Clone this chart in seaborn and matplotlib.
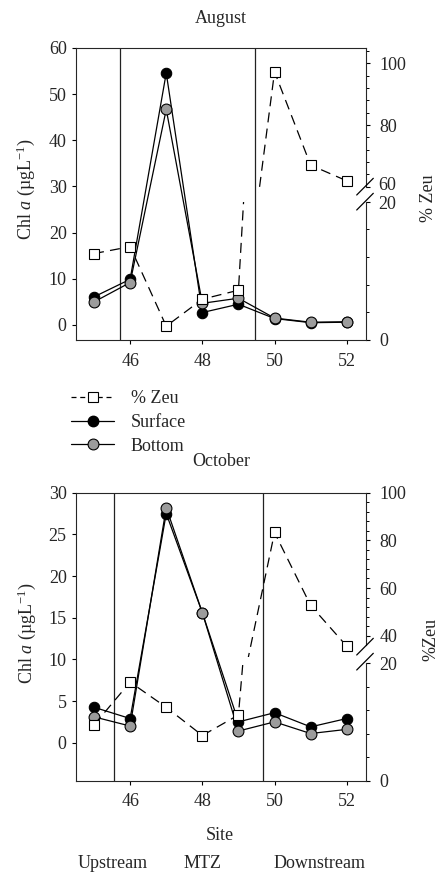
import numpy as np
import pandas as pd
import matplotlib
matplotlib.use("Agg")
import matplotlib.pyplot as plt
import seaborn as sns
from matplotlib.lines import Line2D
from matplotlib.ticker import FixedLocator, FixedFormatter

# ---------------- data ----------------
sites = [45, 46, 47, 48, 49, 50, 51, 52]
aug_surface = [6.1, 9.9, 54.6, 2.7, 4.5, 1.4, 0.5, 0.6]
aug_bottom = [5.0, 9.2, 46.7, 4.7, 5.8, 1.5, 0.6, 0.7]
aug_zeu = [12.5, 13.5, 2.0, 5.9, 7.2, 97.3, 67.0, 61.9]
oct_surface = [4.25, 2.9, 27.5, 15.6, 2.5, 3.6, 1.9, 2.9]
oct_bottom = [3.1, 2.0, 28.2, 15.6, 1.4, 2.5, 1.1, 1.6]
oct_zeu = [9.5, 16.8, 12.5, 7.7, 11.2, 83.3, 52.7, 35.6]
aug_zones = [45.72, 49.47]
oct_zones = [45.56, 49.68]
x_ticks = [46, 48, 50, 52]
aug_left_ticks = [0, 10, 20, 30, 40, 50, 60]
oct_left_ticks = [0, 5, 10, 15, 20, 25, 30]
right_low_ticks = [0, 20]
aug_right_up_ticks = [60, 80, 100]
oct_right_up_ticks = [40, 60, 80, 100]
zone_labels = ["Upstream", "MTZ", "Downstream"]
legend_labels = ["% Zeu", "Surface", "Bottom"]

# ---------------- style ----------------
sns.set_style("ticks")
plt.rcParams["font.family"] = ["Liberation Serif", "DejaVu Serif"]
plt.rcParams["mathtext.fontset"] = "custom"
plt.rcParams["mathtext.rm"] = "Liberation Serif"
plt.rcParams["mathtext.it"] = "Liberation Serif:italic"
plt.rcParams["axes.linewidth"] = 0.8
FS = 13

W, H = 440, 876
fig = plt.figure(figsize=(W / 100, H / 100), dpi=100)
fig.patch.set_facecolor("white")


def rect(x0, ytop, x1, ybot):
    return [x0 / W, 1 - ybot / H, (x1 - x0) / W, (ybot - ytop) / H]


def fx(x):
    return x / W


def fy(y):
    return 1 - y / H


XL, XR = 76, 365.5
XLIM = (44.50, 52.52)
GRAY = "#9c9c9c"
LW = 0.9


def style_ticks(ax):
    ax.tick_params(axis="both", which="major", direction="out", length=3.2,
                   width=0.8, labelsize=FS, color="black")
    ax.tick_params(axis="both", which="minor", direction="out", length=2.2,
                   width=0.7, color="black")


def panel(ytop, ybot, ylim, left_ticks, surface, bottom, zeu, zones,
          low_rect_top, up_rect_bot, up_ylim, up_bounds_low, up_ticks,
          low_labels, up_labels):
    ax = fig.add_axes(rect(XL, ytop, XR, ybot))
    ax.set_xlim(*XLIM)
    ax.set_ylim(*ylim)
    ax.spines["right"].set_visible(False)
    for s in ["left", "top", "bottom"]:
        ax.spines[s].set_linewidth(0.8)
    ax.set_xticks(x_ticks)
    ax.set_xticklabels([str(t) for t in x_ticks])
    ax.set_yticks(left_ticks)
    style_ticks(ax)
    ax.tick_params(axis="y", pad=3.5)
    ax.tick_params(axis="x", pad=6)
    for z in zones:
        ax.axvline(z, color="#222222", lw=0.9, zorder=1)

    df = pd.DataFrame({"site": sites, "surface": surface, "bottom": bottom,
                       "zeu": zeu})
    sns.lineplot(data=df, x="site", y="surface", ax=ax, color="black",
                 marker="o", markersize=7.5, markerfacecolor="black",
                 markeredgecolor="black", markeredgewidth=0.8, linewidth=LW,
                 errorbar=None, legend=False, zorder=3)
    sns.lineplot(data=df, x="site", y="bottom", ax=ax, color="black",
                 marker="o", markersize=7.8, markerfacecolor=GRAY,
                 markeredgecolor="black", markeredgewidth=0.8, linewidth=LW,
                 errorbar=None, legend=False, zorder=4)
    ax.set_xlabel("")
    ax.set_ylabel("")

    # lower segment of broken right axis
    axl = fig.add_axes(rect(XL, low_rect_top, XR, ybot))
    axl.sharex(ax)
    axl.set_ylim(0, 20)
    # upper segment
    axu = fig.add_axes(rect(XL, ytop, XR, up_rect_bot))
    axu.sharex(ax)
    axu.set_ylim(*up_ylim)
    for a in (axl, axu):
        a.patch.set_visible(False)
        for s in ["left", "top", "bottom"]:
            a.spines[s].set_visible(False)
        a.spines["right"].set_linewidth(0.8)
        a.xaxis.set_visible(False)
        a.yaxis.tick_right()
        style_ticks(a)
        a.tick_params(axis="y", pad=7)
        sns.lineplot(data=df, x="site", y="zeu", ax=a, color="black",
                     marker="s", markersize=7, markerfacecolor="white",
                     markeredgecolor="black", markeredgewidth=0.8,
                     linewidth=LW, linestyle="--", errorbar=None,
                     legend=False, zorder=5)
        a.lines[-1].set_dashes((8, 5))
        a.set_xlabel("")
        a.set_ylabel("")
    axl.yaxis.set_major_locator(FixedLocator(right_low_ticks))
    axl.yaxis.set_major_formatter(FixedFormatter(low_labels))
    axl.yaxis.set_minor_locator(FixedLocator([4, 8, 12, 16]))
    axl.spines["right"].set_bounds(0, 20)
    axu.yaxis.set_major_locator(FixedLocator(up_ticks))
    axu.yaxis.set_major_formatter(FixedFormatter(up_labels))
    mn = [v for v in np.arange(up_ticks[0], up_ylim[1], 4) if v not in up_ticks]
    axu.yaxis.set_minor_locator(FixedLocator(mn))
    axu.spines["right"].set_bounds(up_bounds_low, up_ylim[1])
    axl.set_xlim(*XLIM)
    return ax, axl, axu


# ---------------- August ----------------
panel(48, 340, (-3.25, 60), aug_left_ticks, aug_surface, aug_bottom, aug_zeu,
      aug_zones, 201.7, 193, (57.95, 105.03), 60, aug_right_up_ticks,
      ["0", ""], ["", "80", "100"])
# the two labels at the August break sit very close; place them slightly apart
fig.text(fx(378.5), fy(183.5), "60", ha="left", va="center_baseline", fontsize=FS)
fig.text(fx(378.5), fy(202.5), "20", ha="left", va="center_baseline", fontsize=FS)

# ---------------- October ----------------
panel(492.7, 780.7, (-4.56, 30), oct_left_ticks, oct_surface, oct_bottom,
      oct_zeu, oct_zones, 663.3, 657, (31.06, 100), 36.1, oct_right_up_ticks,
      ["0", "20"], ["40", "60", "80", "100"])


# break marks
def slash(x0, y0, x1, y1):
    fig.add_artist(Line2D([fx(x0), fx(x1)], [fy(y0), fy(y1)],
                          transform=fig.transFigure, color="black", lw=0.9))


for (ya, yb) in [(195, 210), (655, 670)]:
    slash(356.7, ya, 373.3, ya - 16.7)
    slash(356.7, yb, 373.3, yb - 16.7)

# ---------------- texts ----------------
fig.text(fx(221), fy(18.5), "August", ha="center", va="center", fontsize=FS)
fig.text(fx(221), fy(462), "October", ha="center", va="center", fontsize=FS)
ylab = "Chl $a$ (\u00b5gL$^{-1}$)"
fig.text(fx(26), fy(189), ylab, rotation=90, ha="center", va="center",
         fontsize=FS)
fig.text(fx(26.5), fy(633), ylab, rotation=90, ha="center", va="center",
         fontsize=FS)
fig.text(fx(428), fy(198), "% Zeu", rotation=90, ha="center", va="center",
         fontsize=FS)
fig.text(fx(431), fy(639), "%Zeu", rotation=90, ha="center", va="center",
         fontsize=FS)
fig.text(fx(220), fy(835), "Site", ha="center", va="center", fontsize=FS)
for lab, xc in zip(zone_labels, [113, 203, 320]):
    fig.text(fx(xc), fy(864), lab, ha="center", va="center", fontsize=FS)

# legend
h_zeu = Line2D([], [], color="black", lw=LW, linestyle="--", dashes=(4, 3),
               marker="s", markersize=7, markerfacecolor="white",
               markeredgecolor="black", markeredgewidth=0.8)
h_surf = Line2D([], [], color="black", lw=LW, marker="o", markersize=7.5,
                markerfacecolor="black", markeredgecolor="black")
h_bot = Line2D([], [], color="black", lw=LW, marker="o", markersize=7.8,
               markerfacecolor=GRAY, markeredgecolor="black",
               markeredgewidth=0.8)
fig.legend([h_zeu, h_surf, h_bot], legend_labels, loc="upper left",
           bbox_to_anchor=(fx(71), fy(390)), frameon=False, fontsize=FS,
           handlelength=2.4, handletextpad=0.9, labelspacing=0.38,
           borderpad=0, borderaxespad=0)

fig.savefig("out.png", dpi=100, facecolor="white")
